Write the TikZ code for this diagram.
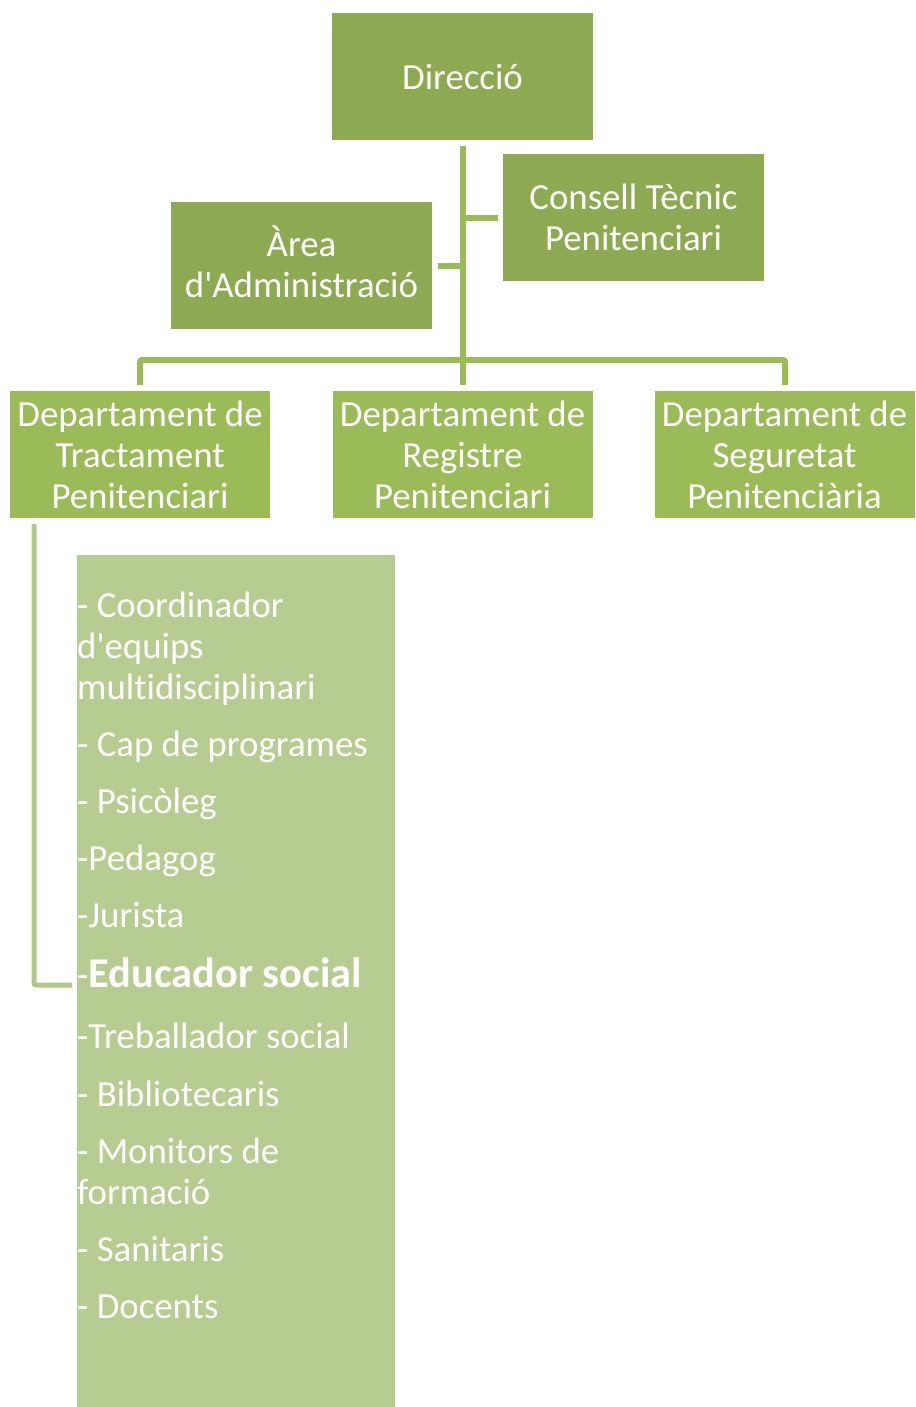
\documentclass[tikz,border=0pt]{standalone}
\usepackage{fontspec}
\newfontfamily\calfont{Carlito}[Ligatures=NoCommon]
\definecolor{topgreen}{RGB}{141,170,82}
\definecolor{deptgreen}{RGB}{155,187,89}
\definecolor{linegreen}{RGB}{155,187,89}
\definecolor{subgreen}{RGB}{183,204,145}
\definecolor{sublinegreen}{RGB}{176,200,136}
\tikzset{
  x=1pt, y=-1pt,
  boxtext/.style={text=white, align=center, inner sep=0pt,
    font=\calfont\fontsize{36.8}{41}\selectfont,
    minimum width=261pt, minimum height=127pt},
  topbox/.style={boxtext, fill=topgreen},
  deptbox/.style={boxtext, fill=deptgreen, minimum width=260pt},
  conn/.style={draw=linegreen, line width=6pt, rounded corners=2pt},
  subconn/.style={draw=sublinegreen, line width=5pt, rounded corners=2pt},
  item/.style={anchor=base west, inner sep=0pt, text=white,
    font=\calfont\fontsize{36.8}{41}\selectfont},
}
\begin{document}
\begin{tikzpicture}
\useasboundingbox (0,0) rectangle (915,1407);
% boxes
\node[topbox] (dir) at (462.5,76.5) {Direcció};
\node[topbox] (cons) at (633.5,217.5) {Consell Tècnic\\Penitenciari};
\node[topbox] (area) at (301.5,265.5) {\smash{Àrea}\vphantom{Area}\\d'Administració};
\node[deptbox] (tract) at (140,454.5) {Departament de\\Tractament\\Penitenciari};
\node[deptbox] (reg) at (462.5,454.5) {Departament de\\Registre\\Penitenciari};
\node[deptbox] (seg) at (784.5,454.5) {Departament de\\Seguretat\\Penitenciària};
% sub box
\node[fill=subgreen, inner sep=0pt, minimum width=318pt, minimum height=852pt] (sub) at (236,981) {};
% connector coordinates
\coordinate (vtop) at (463,146);
\coordinate (vbot) at (463,385);
\coordinate (hy) at (463,360);
\coordinate (cy) at (463,218);
\coordinate (ay) at (463,266);
\coordinate (cend) at (498,218);
\coordinate (aend) at (438,266);
\coordinate (ltop) at (140,385);
\coordinate (rtop) at (785,385);
\coordinate (stop) at (34,524);
\coordinate (send) at (72,985);
% connectors
\draw[conn] (vtop) -- (vbot);
\draw[conn] (cy) -- (cend);
\draw[conn] (ay) -- (aend);
\draw[conn] (ltop) |- (hy) -| (rtop);
\draw[subconn] (stop) |- (send);
% items
\node[item] (i1) at (77,617) {- Coordinador};
\node[item] (i2) at (77,658) {d'equips};
\node[item] (i3) at (77,699) {multidisciplinari};
\node[item] (i4) at (77,756) {- Cap de programes};
\node[item] (i5) at (77,813) {- Psicòleg};
\node[item] (i6) at (77,870) {-Pedagog};
\node[item] (i7) at (77,927) {-Jurista};
\node[item] (i8) at (77,987) {-{\bfseries\fontsize{42.4}{50}\selectfont Educador social}};
\node[item] (i9) at (77,1048) {-Treballador social};
\node[item] (i10) at (77,1106) {- Bibliotecaris};
\node[item] (i11) at (77,1163) {- Monitors de};
\node[item] (i12) at (77,1204) {formació};
\node[item] (i13) at (77,1261) {- Sanitaris};
\node[item] (i14) at (77,1318) {- Docents};
\end{tikzpicture}
\end{document}
